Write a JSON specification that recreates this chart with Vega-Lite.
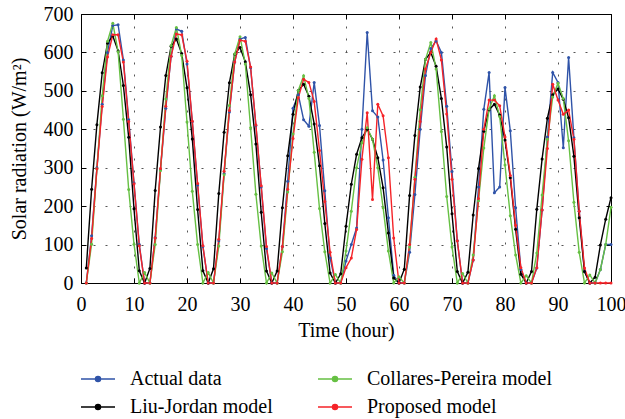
{
  "$schema": "https://vega.github.io/schema/vega-lite/v6.json",
  "width": 530,
  "height": 269,
  "autosize": "none",
  "padding": {"left": 81, "top": 14, "right": 14, "bottom": 136},
  "config": {"font": "Liberation Serif", "view": {"stroke": null}, "axis": {"titleFontWeight": "normal"}},
  "datasets": {
    "d": [
{"t":1,"s":"A","v":0},{"t":2,"s":"A","v":123},{"t":3,"s":"A","v":300},{"t":4,"s":"A","v":465},{"t":5,"s":"A","v":600},{"t":6,"s":"A","v":670},{"t":7,"s":"A","v":672},{"t":8,"s":"A","v":580},{"t":9,"s":"A","v":425},{"t":10,"s":"A","v":260},{"t":11,"s":"A","v":100},{"t":12,"s":"A","v":0},
{"t":13,"s":"A","v":0},{"t":14,"s":"A","v":118},{"t":15,"s":"A","v":295},{"t":16,"s":"A","v":455},{"t":17,"s":"A","v":590},{"t":18,"s":"A","v":661},{"t":19,"s":"A","v":655},{"t":20,"s":"A","v":570},{"t":21,"s":"A","v":420},{"t":22,"s":"A","v":255},{"t":23,"s":"A","v":95},{"t":24,"s":"A","v":0},
{"t":25,"s":"A","v":0},{"t":26,"s":"A","v":110},{"t":27,"s":"A","v":285},{"t":28,"s":"A","v":445},{"t":29,"s":"A","v":575},{"t":30,"s":"A","v":635},{"t":31,"s":"A","v":639},{"t":32,"s":"A","v":560},{"t":33,"s":"A","v":410},{"t":34,"s":"A","v":250},{"t":35,"s":"A","v":90},{"t":36,"s":"A","v":0},
{"t":37,"s":"A","v":0},{"t":38,"s":"A","v":95},{"t":39,"s":"A","v":265},{"t":40,"s":"A","v":455},{"t":41,"s":"A","v":490},{"t":42,"s":"A","v":425},{"t":43,"s":"A","v":408},{"t":44,"s":"A","v":522},{"t":45,"s":"A","v":410},{"t":46,"s":"A","v":240},{"t":47,"s":"A","v":65},{"t":48,"s":"A","v":0},
{"t":49,"s":"A","v":0},{"t":50,"s":"A","v":57},{"t":51,"s":"A","v":100},{"t":52,"s":"A","v":143},{"t":53,"s":"A","v":400},{"t":54,"s":"A","v":652},{"t":55,"s":"A","v":448},{"t":56,"s":"A","v":432},{"t":57,"s":"A","v":320},{"t":58,"s":"A","v":170},{"t":59,"s":"A","v":20},{"t":60,"s":"A","v":0},
{"t":61,"s":"A","v":0},{"t":62,"s":"A","v":80},{"t":63,"s":"A","v":230},{"t":64,"s":"A","v":400},{"t":65,"s":"A","v":540},{"t":66,"s":"A","v":610},{"t":67,"s":"A","v":630},{"t":68,"s":"A","v":600},{"t":69,"s":"A","v":460},{"t":70,"s":"A","v":290},{"t":71,"s":"A","v":110},{"t":72,"s":"A","v":0},
{"t":73,"s":"A","v":0},{"t":74,"s":"A","v":60},{"t":75,"s":"A","v":250},{"t":76,"s":"A","v":452},{"t":77,"s":"A","v":548},{"t":78,"s":"A","v":235},{"t":79,"s":"A","v":250},{"t":80,"s":"A","v":509},{"t":81,"s":"A","v":396},{"t":82,"s":"A","v":196},{"t":83,"s":"A","v":35},{"t":84,"s":"A","v":0},
{"t":85,"s":"A","v":0},{"t":86,"s":"A","v":39},{"t":87,"s":"A","v":190},{"t":88,"s":"A","v":380},{"t":89,"s":"A","v":548},{"t":90,"s":"A","v":522},{"t":91,"s":"A","v":352},{"t":92,"s":"A","v":587},{"t":93,"s":"A","v":378},{"t":94,"s":"A","v":187},{"t":95,"s":"A","v":30},{"t":96,"s":"A","v":0},
{"t":97,"s":"A","v":0},{"t":98,"s":"A","v":35},{"t":99,"s":"A","v":100},{"t":100,"s":"A","v":100},
{"t":1,"s":"B","v":39},{"t":2,"s":"B","v":244},{"t":3,"s":"B","v":412},{"t":4,"s":"B","v":547},{"t":5,"s":"B","v":624},{"t":6,"s":"B","v":643},{"t":7,"s":"B","v":604},{"t":8,"s":"B","v":514},{"t":9,"s":"B","v":379},{"t":10,"s":"B","v":193},{"t":11,"s":"B","v":32},{"t":12,"s":"B","v":0},
{"t":13,"s":"B","v":38},{"t":14,"s":"B","v":241},{"t":15,"s":"B","v":406},{"t":16,"s":"B","v":540},{"t":17,"s":"B","v":616},{"t":18,"s":"B","v":635},{"t":19,"s":"B","v":597},{"t":20,"s":"B","v":508},{"t":21,"s":"B","v":375},{"t":22,"s":"B","v":191},{"t":23,"s":"B","v":32},{"t":24,"s":"B","v":0},
{"t":25,"s":"B","v":37},{"t":26,"s":"B","v":233},{"t":27,"s":"B","v":392},{"t":28,"s":"B","v":521},{"t":29,"s":"B","v":595},{"t":30,"s":"B","v":613},{"t":31,"s":"B","v":576},{"t":32,"s":"B","v":490},{"t":33,"s":"B","v":362},{"t":34,"s":"B","v":184},{"t":35,"s":"B","v":31},{"t":36,"s":"B","v":0},
{"t":37,"s":"B","v":31},{"t":38,"s":"B","v":196},{"t":39,"s":"B","v":331},{"t":40,"s":"B","v":439},{"t":41,"s":"B","v":501},{"t":42,"s":"B","v":517},{"t":43,"s":"B","v":486},{"t":44,"s":"B","v":414},{"t":45,"s":"B","v":305},{"t":46,"s":"B","v":155},{"t":47,"s":"B","v":26},{"t":48,"s":"B","v":0},
{"t":49,"s":"B","v":24},{"t":50,"s":"B","v":148},{"t":51,"s":"B","v":257},{"t":52,"s":"B","v":335},{"t":53,"s":"B","v":378},{"t":54,"s":"B","v":400},{"t":55,"s":"B","v":374},{"t":56,"s":"B","v":326},{"t":57,"s":"B","v":248},{"t":58,"s":"B","v":130},{"t":59,"s":"B","v":13},{"t":60,"s":"B","v":0},
{"t":61,"s":"B","v":36},{"t":62,"s":"B","v":228},{"t":63,"s":"B","v":384},{"t":64,"s":"B","v":510},{"t":65,"s":"B","v":582},{"t":66,"s":"B","v":600},{"t":67,"s":"B","v":564},{"t":68,"s":"B","v":480},{"t":69,"s":"B","v":354},{"t":70,"s":"B","v":180},{"t":71,"s":"B","v":30},{"t":72,"s":"B","v":0},
{"t":73,"s":"B","v":28},{"t":74,"s":"B","v":177},{"t":75,"s":"B","v":298},{"t":76,"s":"B","v":395},{"t":77,"s":"B","v":451},{"t":78,"s":"B","v":465},{"t":79,"s":"B","v":437},{"t":80,"s":"B","v":372},{"t":81,"s":"B","v":274},{"t":82,"s":"B","v":140},{"t":83,"s":"B","v":23},{"t":84,"s":"B","v":0},
{"t":85,"s":"B","v":30},{"t":86,"s":"B","v":192},{"t":87,"s":"B","v":323},{"t":88,"s":"B","v":429},{"t":89,"s":"B","v":490},{"t":90,"s":"B","v":505},{"t":91,"s":"B","v":478},{"t":92,"s":"B","v":430},{"t":93,"s":"B","v":330},{"t":94,"s":"B","v":170},{"t":95,"s":"B","v":30},{"t":96,"s":"B","v":0},
{"t":97,"s":"B","v":15},{"t":98,"s":"B","v":99},{"t":99,"s":"B","v":166},{"t":100,"s":"B","v":222},
{"t":1,"s":"G","v":0},{"t":2,"s":"G","v":101},{"t":3,"s":"G","v":297},{"t":4,"s":"G","v":487},{"t":5,"s":"G","v":629},{"t":6,"s":"G","v":676},{"t":7,"s":"G","v":602},{"t":8,"s":"G","v":426},{"t":9,"s":"G","v":243},{"t":10,"s":"G","v":101},{"t":11,"s":"G","v":0},{"t":12,"s":"G","v":27},
{"t":13,"s":"G","v":0},{"t":14,"s":"G","v":100},{"t":15,"s":"G","v":293},{"t":16,"s":"G","v":479},{"t":17,"s":"G","v":618},{"t":18,"s":"G","v":665},{"t":19,"s":"G","v":592},{"t":20,"s":"G","v":419},{"t":21,"s":"G","v":239},{"t":22,"s":"G","v":100},{"t":23,"s":"G","v":0},{"t":24,"s":"G","v":27},
{"t":25,"s":"G","v":0},{"t":26,"s":"G","v":96},{"t":27,"s":"G","v":282},{"t":28,"s":"G","v":462},{"t":29,"s":"G","v":596},{"t":30,"s":"G","v":641},{"t":31,"s":"G","v":570},{"t":32,"s":"G","v":404},{"t":33,"s":"G","v":231},{"t":34,"s":"G","v":96},{"t":35,"s":"G","v":0},{"t":36,"s":"G","v":26},
{"t":37,"s":"G","v":0},{"t":38,"s":"G","v":81},{"t":39,"s":"G","v":237},{"t":40,"s":"G","v":388},{"t":41,"s":"G","v":501},{"t":42,"s":"G","v":539},{"t":43,"s":"G","v":480},{"t":44,"s":"G","v":340},{"t":45,"s":"G","v":194},{"t":46,"s":"G","v":81},{"t":47,"s":"G","v":0},{"t":48,"s":"G","v":22},
{"t":49,"s":"G","v":0},{"t":50,"s":"G","v":83},{"t":51,"s":"G","v":187},{"t":52,"s":"G","v":300},{"t":53,"s":"G","v":365},{"t":54,"s":"G","v":404},{"t":55,"s":"G","v":374},{"t":56,"s":"G","v":300},{"t":57,"s":"G","v":196},{"t":58,"s":"G","v":83},{"t":59,"s":"G","v":0},{"t":60,"s":"G","v":16},
{"t":61,"s":"G","v":0},{"t":62,"s":"G","v":94},{"t":63,"s":"G","v":275},{"t":64,"s":"G","v":451},{"t":65,"s":"G","v":582},{"t":66,"s":"G","v":626},{"t":67,"s":"G","v":557},{"t":68,"s":"G","v":394},{"t":69,"s":"G","v":225},{"t":70,"s":"G","v":94},{"t":71,"s":"G","v":0},{"t":72,"s":"G","v":25},
{"t":73,"s":"G","v":0},{"t":74,"s":"G","v":73},{"t":75,"s":"G","v":214},{"t":76,"s":"G","v":351},{"t":77,"s":"G","v":453},{"t":78,"s":"G","v":487},{"t":79,"s":"G","v":433},{"t":80,"s":"G","v":307},{"t":81,"s":"G","v":175},{"t":82,"s":"G","v":73},{"t":83,"s":"G","v":0},{"t":84,"s":"G","v":19},
{"t":85,"s":"G","v":0},{"t":86,"s":"G","v":78},{"t":87,"s":"G","v":229},{"t":88,"s":"G","v":374},{"t":89,"s":"G","v":484},{"t":90,"s":"G","v":520},{"t":91,"s":"G","v":480},{"t":92,"s":"G","v":370},{"t":93,"s":"G","v":210},{"t":94,"s":"G","v":80},{"t":95,"s":"G","v":0},{"t":96,"s":"G","v":21},
{"t":97,"s":"G","v":0},{"t":98,"s":"G","v":35},{"t":99,"s":"G","v":100},{"t":100,"s":"G","v":197},
{"t":1,"s":"R","v":0},{"t":2,"s":"R","v":116},{"t":3,"s":"R","v":297},{"t":4,"s":"R","v":459},{"t":5,"s":"R","v":588},{"t":6,"s":"R","v":646},{"t":7,"s":"R","v":646},{"t":8,"s":"R","v":575},{"t":9,"s":"R","v":420},{"t":10,"s":"R","v":258},{"t":11,"s":"R","v":97},{"t":12,"s":"R","v":0},
{"t":13,"s":"R","v":0},{"t":14,"s":"R","v":117},{"t":15,"s":"R","v":298},{"t":16,"s":"R","v":460},{"t":17,"s":"R","v":590},{"t":18,"s":"R","v":648},{"t":19,"s":"R","v":646},{"t":20,"s":"R","v":577},{"t":21,"s":"R","v":421},{"t":22,"s":"R","v":259},{"t":23,"s":"R","v":97},{"t":24,"s":"R","v":0},
{"t":25,"s":"R","v":0},{"t":26,"s":"R","v":114},{"t":27,"s":"R","v":291},{"t":28,"s":"R","v":449},{"t":29,"s":"R","v":575},{"t":30,"s":"R","v":632},{"t":31,"s":"R","v":629},{"t":32,"s":"R","v":562},{"t":33,"s":"R","v":411},{"t":34,"s":"R","v":253},{"t":35,"s":"R","v":95},{"t":36,"s":"R","v":0},
{"t":37,"s":"R","v":0},{"t":38,"s":"R","v":95},{"t":39,"s":"R","v":244},{"t":40,"s":"R","v":376},{"t":41,"s":"R","v":482},{"t":42,"s":"R","v":530},{"t":43,"s":"R","v":522},{"t":44,"s":"R","v":472},{"t":45,"s":"R","v":345},{"t":46,"s":"R","v":212},{"t":47,"s":"R","v":80},{"t":48,"s":"R","v":0},
{"t":49,"s":"R","v":0},{"t":50,"s":"R","v":40},{"t":51,"s":"R","v":65},{"t":52,"s":"R","v":139},{"t":53,"s":"R","v":322},{"t":54,"s":"R","v":443},{"t":55,"s":"R","v":217},{"t":56,"s":"R","v":465},{"t":57,"s":"R","v":435},{"t":58,"s":"R","v":326},{"t":59,"s":"R","v":117},{"t":60,"s":"R","v":0},
{"t":61,"s":"R","v":0},{"t":62,"s":"R","v":100},{"t":63,"s":"R","v":270},{"t":64,"s":"R","v":420},{"t":65,"s":"R","v":557},{"t":66,"s":"R","v":600},{"t":67,"s":"R","v":635},{"t":68,"s":"R","v":580},{"t":69,"s":"R","v":440},{"t":70,"s":"R","v":270},{"t":71,"s":"R","v":110},{"t":72,"s":"R","v":0},
{"t":73,"s":"R","v":0},{"t":74,"s":"R","v":60},{"t":75,"s":"R","v":220},{"t":76,"s":"R","v":400},{"t":77,"s":"R","v":476},{"t":78,"s":"R","v":476},{"t":79,"s":"R","v":461},{"t":80,"s":"R","v":380},{"t":81,"s":"R","v":280},{"t":82,"s":"R","v":150},{"t":83,"s":"R","v":40},{"t":84,"s":"R","v":0},
{"t":85,"s":"R","v":0},{"t":86,"s":"R","v":40},{"t":87,"s":"R","v":190},{"t":88,"s":"R","v":350},{"t":89,"s":"R","v":517},{"t":90,"s":"R","v":476},{"t":91,"s":"R","v":439},{"t":92,"s":"R","v":450},{"t":93,"s":"R","v":374},{"t":94,"s":"R","v":187},{"t":95,"s":"R","v":39},{"t":96,"s":"R","v":0},
{"t":97,"s":"R","v":0},{"t":98,"s":"R","v":0},{"t":99,"s":"R","v":0},{"t":100,"s":"R","v":0}
    ]
  },
  "data": {"name": "d"},
  "layer": [
    {
      "mark": {"type": "line", "strokeWidth": 1.4, "point": {"filled": true, "size": 9}},
      "encoding": {
        "x": {
          "field": "t", "type": "quantitative",
          "scale": {"domain": [0, 100], "nice": false, "zero": false},
          "axis": {
            "orient": "bottom", "values": [0,10,20,30,40,50,60,70,80,90,100],
            "title": "Time (hour)", "titleFontSize": 20, "titleFontWeight": "normal", "titleColor": "black", "titlePadding": 6,
            "labelFontSize": 20, "labelColor": "black", "labelPadding": 16, "labelFlush": false,
            "tickSize": -5, "tickColor": "black", "domainColor": "black",
            "grid": true, "gridColor": "#555555", "gridDash": [2, 10], "gridWidth": 1
          }
        },
        "y": {
          "field": "v", "type": "quantitative",
          "scale": {"domain": [0, 700], "nice": false},
          "axis": {
            "orient": "left", "values": [0,100,200,300,400,500,600,700],
            "title": "Solar radiation (W/m²)", "titleFontSize": 20, "titleFontWeight": "normal", "titleColor": "black", "titlePadding": 14,
            "labelFontSize": 20, "labelColor": "black", "labelPadding": 13, "labelFlush": false,
            "tickSize": -5, "tickColor": "black", "domainColor": "black",
            "grid": true, "gridColor": "#555555", "gridDash": [2, 10], "gridWidth": 1
          }
        },
        "color": {
          "field": "s", "type": "nominal",
          "scale": {"domain": ["A", "G", "B", "R"], "range": ["#2f53a8", "#66c043", "#000000", "#f52328"]},
          "legend": {
            "orient": "none", "legendX": -1, "legendY": 347, "columns": 2, "direction": "horizontal",
            "title": null, "padding": 0, "columnPadding": 42, "rowPadding": 0,
            "labelFontSize": 20, "labelColor": "black", "labelOffset": 14, "labelLimit": 400,
            "labelExpr": "datum.label == 'A' ? 'Actual data' : datum.label == 'B' ? 'Liu-Jordan model' : datum.label == 'G' ? 'Collares-Pereira model' : 'Proposed model'",
            "symbolType": "M-1,0L1,0M-0.15,0A0.15,0.15,0,1,0,0.15,0A0.15,0.15,0,1,0,-0.15,0Z",
            "symbolSize": 1156, "symbolStrokeWidth": 1.4,
            "encode": {"symbols": {"update": {"fill": {"scale": "color", "field": "value"}, "stroke": {"scale": "color", "field": "value"}, "opacity": {"value": 1}}}}
          }
        }
      }
    },
    {
      "mark": {"type": "point", "opacity": 0, "size": 0},
      "encoding": {
        "x": {"field": "t", "type": "quantitative", "axis": {"orient": "top", "values": [0,10,20,30,40,50,60,70,80,90,100], "labels": false, "title": null, "tickSize": -5, "tickColor": "black", "domainColor": "black", "grid": false}},
        "y": {"field": "v", "type": "quantitative", "axis": {"orient": "right", "values": [0,100,200,300,400,500,600,700], "labels": false, "title": null, "tickSize": -5, "tickColor": "black", "domainColor": "black", "grid": false}}
      }
    }
  ],
  "resolve": {"axis": {"x": "independent", "y": "independent"}}
}
